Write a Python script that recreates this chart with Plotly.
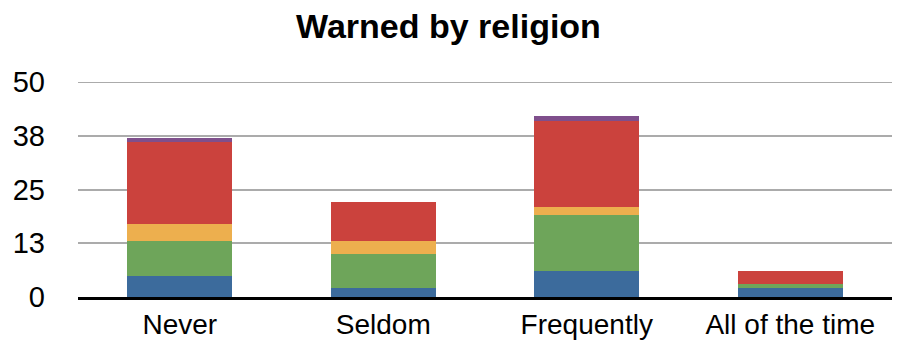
import plotly.graph_objects as go

categories = ["Never", "Seldom", "Frequently", "All of the time"]

# stacked segments, bottom to top
seg_blue = [5, 2, 6, 2]
seg_green = [8, 8, 13, 1]
seg_orange = [4, 3, 2, 0]
seg_red = [19, 9, 20, 3]
seg_purple = [1, 0, 1, 0]

tick_vals = [0, 12.5, 25, 37.5, 50]
tick_text = ["0", "13", "25", "38", "50"]

series = [
    ("Series 1", seg_blue, "#3C6B9C"),
    ("Series 2", seg_green, "#6EA55A"),
    ("Series 3", seg_orange, "#EDAF4E"),
    ("Series 4", seg_red, "#CB423D"),
    ("Series 5", seg_purple, "#7F4F8C"),
]

fig = go.Figure()
for name, vals, color in series:
    fig.add_trace(go.Bar(
        x=categories, y=vals, name=name,
        marker=dict(color=color, line=dict(width=0)),
    ))

font_family = "Liberation Sans, Arial, Helvetica, sans-serif"
grid_color = "#ABABAB"

# top gridline sits on the edge of the plot area, so draw it explicitly
fig.add_shape(
    type="line", xref="paper", yref="y",
    x0=0, x1=1, y0=tick_vals[-1], y1=tick_vals[-1],
    line=dict(color=grid_color, width=2), layer="below",
)

fig.update_layout(
    barmode="stack",
    bargap=0.485,
    width=897, height=340,
    margin=dict(l=78, r=5, t=82, b=43, autoexpand=False),
    paper_bgcolor="white",
    plot_bgcolor="white",
    showlegend=False,
    title=dict(
        text="<b>Warned by religion</b>",
        x=0.5, xanchor="center",
        y=1 - 26 / 340, yanchor="middle",
        font=dict(family=font_family, size=34, color="#000000"),
    ),
    font=dict(family=font_family, color="#000000"),
    xaxis=dict(
        automargin=False,
        showgrid=False,
        showline=True, linecolor="#000000", linewidth=3,
        ticks="",
        tickfont=dict(size=28, color="#000000"),
        ticklabelstandoff=0,
    ),
    yaxis=dict(
        automargin=False,
        range=[0, 50],
        tickvals=tick_vals, ticktext=tick_text,
        showgrid=True, gridcolor=grid_color, gridwidth=2,
        zeroline=False,
        showline=False,
        ticks="",
        tickfont=dict(size=29, color="#000000"),
        ticklabelstandoff=32,
    ),
)

fig.write_html("out.html")
